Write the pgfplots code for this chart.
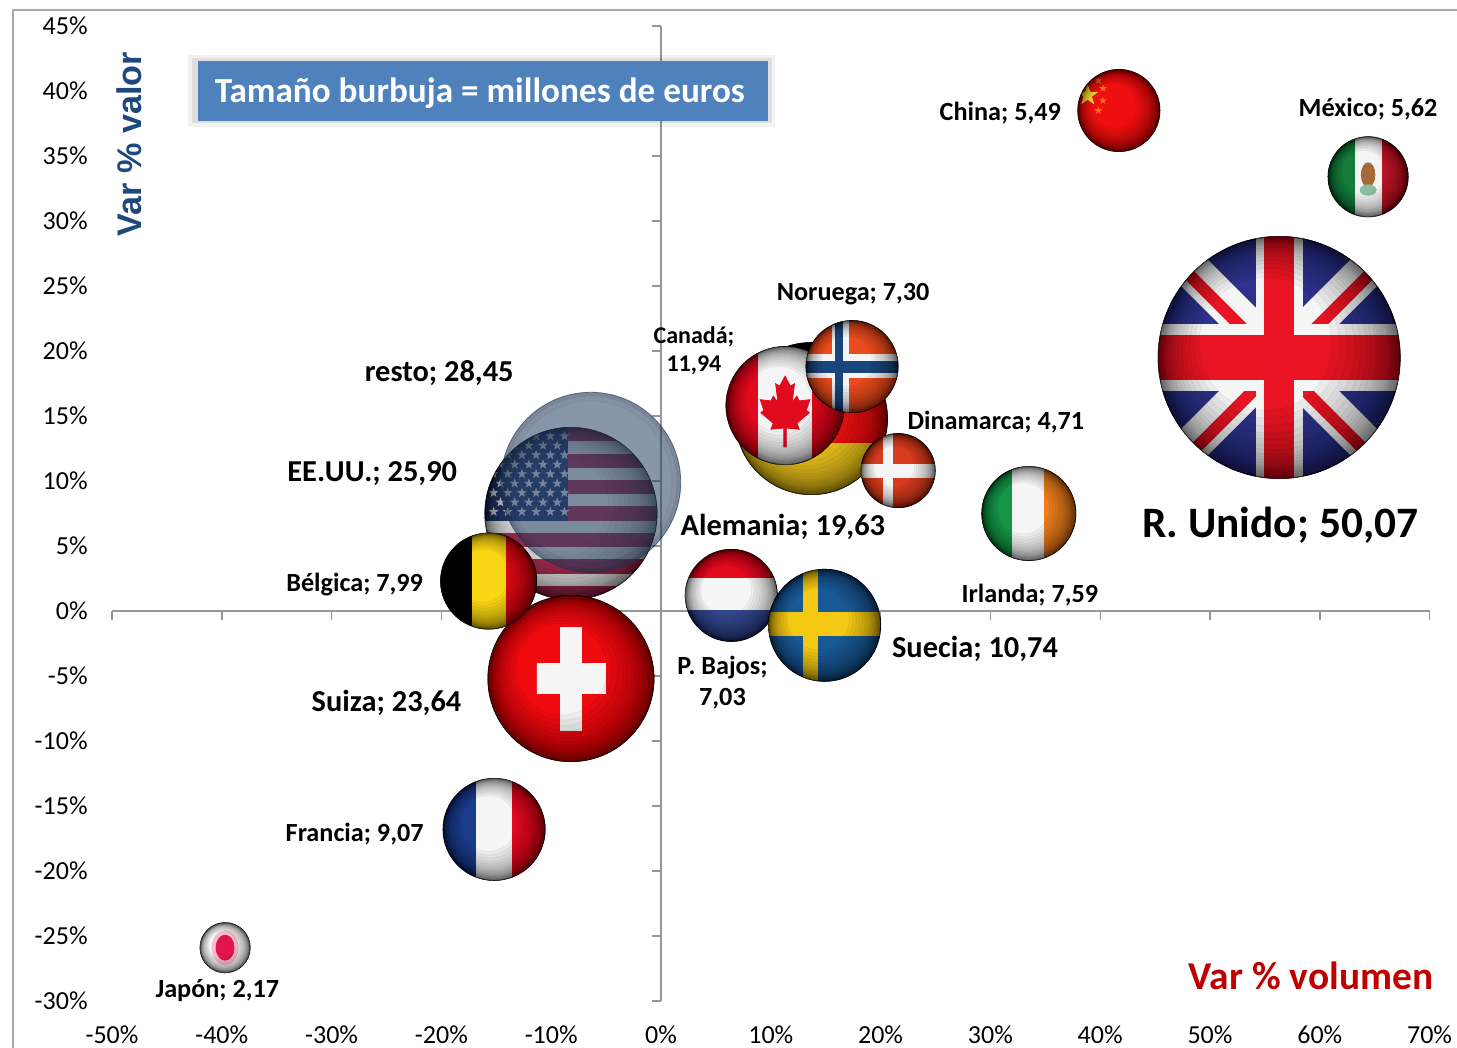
\documentclass[border=0pt]{standalone}
\usepackage{fontspec}
\setmainfont{Carlito}
\newfontfamily\arialfont{Liberation Sans}
\usepackage{pgfplots}
\pgfplotsset{compat=1.18}

\definecolor{frameg}{RGB}{170,170,170}
\definecolor{axisg}{RGB}{150,150,150}
\definecolor{boxblue}{RGB}{79,129,189}
\definecolor{valorblue}{RGB}{31,73,125}
\definecolor{volred}{RGB}{192,0,0}
\definecolor{fred}{RGB}{226,10,30}
\definecolor{chred}{RGB}{238,10,15}
\definecolor{ukred}{RGB}{232,20,35}
\definecolor{fwhite}{RGB}{245,245,245}
\definecolor{ukblue}{RGB}{45,50,140}
\definecolor{usblue}{RGB}{38,58,110}
\definecolor{usred}{RGB}{165,45,85}
\definecolor{usw}{RGB}{230,230,230}
\definecolor{beyellow}{RGB}{250,215,20}
\definecolor{bered}{RGB}{215,10,20}
\definecolor{frblue}{RGB}{25,60,140}
\definecolor{nlblue}{RGB}{50,70,140}
\definecolor{seblue}{RGB}{25,90,150}
\definecolor{seyellow}{RGB}{245,200,20}
\definecolor{noorange}{RGB}{235,75,30}
\definecolor{dkorange}{RGB}{215,60,30}
\definecolor{noblue}{RGB}{25,70,125}
\definecolor{ieorange}{RGB}{235,125,30}
\definecolor{iegreen}{RGB}{20,150,70}
\definecolor{mxgreen}{RGB}{20,125,60}
\definecolor{mxred}{RGB}{190,20,40}
\definecolor{mxbrown}{RGB}{165,105,55}
\definecolor{cnred}{RGB}{240,15,15}
\definecolor{cnyellow}{RGB}{250,225,40}
\definecolor{derd}{RGB}{230,15,15}
\definecolor{degold}{RGB}{235,195,30}
\definecolor{jpred}{RGB}{225,20,75}
\definecolor{jppink}{RGB}{245,190,205}
\definecolor{restofill}{RGB}{38,64,98}

% rim darkening of the spheres, stacked rings, a bit heavier at lower right
\newcommand\sphererim{%
  \foreach \rr in {.55,.6,.65,.7,.74,.78,.81,.84,.86,.88,.9,.92,.93,.94,.95,.96,.97,.98,.99}{%
    \fill[black,opacity=.04,even odd rule] (0,0) circle (1)
      ({-(1-\rr)*.25},{(1-\rr)*.25}) circle (\rr);}}

\newcommand\declareflag[2]{%
  \pgfdeclareplotmark{#1}{%
    \begin{scope}[x=\pgfplotmarksize,y=\pgfplotmarksize]
      \begin{scope}
        \clip (0,0) circle (1);
        #2
      \end{scope}
      \sphererim
    \end{scope}}}
\newcommand\fstar[4]{\fill[#4] (#1,#2)
  +(90:#3) -- +(126:#3*.4) -- +(162:#3) -- +(198:#3*.4) -- +(234:#3) --
  +(270:#3*.4) -- +(306:#3) -- +(342:#3*.4) -- +(18:#3) -- +(54:#3*.4) -- cycle;}

\declareflag{fUK}{%
  \fill[ukblue] (-1,-1) rectangle (1,1);
  \draw[fwhite,line width=.31*\pgfplotmarksize] (-1,-1) -- (1,1) (-1,1) -- (1,-1);
  \draw[ukred,line width=.10*\pgfplotmarksize]
    (-1.03,.97) -- (-.03,-.03) (1.03,.97) -- (.03,-.03)
    (-.97,-1.03) -- (.03,-.03) (.97,-1.03) -- (-.03,-.03);
  \fill[fwhite] (-1,-.27) rectangle (1,.27) (-.19,-1) rectangle (.19,1);
  \fill[ukred] (-1,-.18) rectangle (1,.18) (-.12,-1) rectangle (.12,1);}
\declareflag{fUS}{%
  \fill[usw] (-1,-1) rectangle (1,1);
  \foreach \k in {0,2,...,12}{\fill[usred] (-1,{1-\k*2/13}) rectangle (1,{1-(\k+1)*2/13});}
  \fill[usblue] (-1,-.08) rectangle (-.04,1);
  \foreach \r in {0,...,4}{\foreach \c in {0,...,5}{%
    \fstar{-.9+\c*.165}{.9-\r*.22}{.045}{fwhite!85!usblue}}}
  \foreach \r in {0,...,3}{\foreach \c in {0,...,4}{%
    \fstar{-.82+\c*.165}{.79-\r*.22}{.045}{fwhite!85!usblue}}}}
\declareflag{fBE}{%
  \fill[black] (-1,-1) rectangle (-.33,1);
  \fill[beyellow] (-.33,-1) rectangle (.37,1);
  \fill[bered] (.37,-1) rectangle (1,1);}
\declareflag{fCH}{%
  \fill[chred] (-1,-1) rectangle (1,1);
  \fill[fwhite] (-.41,-.18) rectangle (.41,.18) (-.13,-.62) rectangle (.13,.62);}
\declareflag{fFR}{%
  \fill[frblue] (-1,-1) rectangle (-.35,1);
  \fill[fwhite] (-.35,-1) rectangle (.35,1);
  \fill[fred] (.35,-1) rectangle (1,1);}
\declareflag{fJP}{%
  \fill[fwhite] (-1,-1) rectangle (1,1);
  \fill[jppink] (0,0) ellipse (.52 and .68);
  \fill[jpred] (0,0) ellipse (.36 and .5);}
\declareflag{fNL}{%
  \fill[fred] (-1,.37) rectangle (1,1);
  \fill[fwhite] (-1,-.33) rectangle (1,.37);
  \fill[nlblue] (-1,-1) rectangle (1,-.33);}
\declareflag{fSE}{%
  \fill[seblue] (-1,-1) rectangle (1,1);
  \fill[seyellow] (-1,-.18) rectangle (1,.23) (-.375,-1) rectangle (-.125,1);}
\declareflag{fDE}{%
  \fill[black] (-1,.32) rectangle (1,1);
  \fill[derd] (-1,-.32) rectangle (1,.32);
  \fill[degold] (-1,-1) rectangle (1,-.32);}
\declareflag{fCA}{%
  \fill[fwhite] (-1,-1) rectangle (1,1);
  \fill[fred] (-1,-1) rectangle (-.47,1) (.47,-1) rectangle (1,1);
  \fill[fred] (0,.5) -- (.09,.33) -- (.16,.37) -- (.12,.05) -- (.2,.16) -- (.24,.08) -- (.42,.1)
    -- (.36,-.08) -- (.41,-.12) -- (.2,-.3) -- (.24,-.4) -- (.02,-.38) -- (.02,-.7) -- (-.02,-.7)
    -- (-.02,-.38) -- (-.24,-.4) -- (-.2,-.3) -- (-.41,-.12) -- (-.36,-.08) -- (-.42,.1)
    -- (-.24,.08) -- (-.2,.16) -- (-.12,.05) -- (-.16,.37) -- (-.09,.33) -- cycle;}
\declareflag{fNO}{%
  \fill[noorange] (-1,-1) rectangle (1,1);
  \fill[fwhite] (-1,-.24) rectangle (1,.26) (-.43,-1) rectangle (-.09,1);
  \fill[noblue] (-1,-.13) rectangle (1,.11) (-.37,-1) rectangle (-.2,1);}
\declareflag{fDK}{%
  \fill[dkorange] (-1,-1) rectangle (1,1);
  \fill[fwhite] (-1,-.19) rectangle (1,.16) (-.4,-1) rectangle (-.16,1);}
\declareflag{fIE}{%
  \fill[iegreen] (-1,-1) rectangle (-.34,1);
  \fill[fwhite] (-.34,-1) rectangle (.34,1);
  \fill[ieorange] (.34,-1) rectangle (1,1);}
\declareflag{fMX}{%
  \fill[mxgreen] (-1,-1) rectangle (-.33,1);
  \fill[fwhite] (-.33,-1) rectangle (.35,1);
  \fill[mxred] (.35,-1) rectangle (1,1);
  \fill[mxbrown] (0,.05) ellipse (.17 and .3);
  \fill[mxgreen!50!white] (0,-.33) ellipse (.2 and .13);}
\declareflag{fCN}{%
  \fill[cnred] (-1,-1) rectangle (1,1);
  \fstar{-.76}{.37}{.24}{cnyellow}
  \fstar{-.39}{.54}{.07}{cnyellow!45!cnred}
  \fstar{-.39}{.24}{.07}{cnyellow!45!cnred}
  \fstar{-.5}{0}{.07}{cnyellow!45!cnred}
  \fstar{-.5}{.73}{.07}{cnyellow!45!cnred}}

% translucent bubble of the rest
\pgfdeclareplotmark{fresto}{%
  \begin{scope}[x=\pgfplotmarksize,y=\pgfplotmarksize]
    \fill[restofill,opacity=.55] (0,0) circle (1);
    \foreach \rr/\aa in {.90/.04,.96/.06}{%
      \fill[black,opacity=\aa,even odd rule] (0,0) circle (1) (0,0) circle (\rr);}
  \end{scope}}

\newcommand\bubble[4]{\addplot[only marks,mark=#1,mark size=#2pt] coordinates {(#3,#4)};}
\newcommand\lblS{\fontsize{13.1}{15.5}\selectfont\bfseries}
\newcommand\lblM{\fontsize{15.2}{17}\selectfont\bfseries}
\tikzset{lb/.style={yshift=-1.25pt}}

\begin{document}
\begin{tikzpicture}
\path[use as bounding box] (0,0) rectangle (728.5pt,524pt);
\draw[frameg,line width=1pt] (6.5pt,0) -- (6.5pt,519pt) -- (728.5pt,519pt);

% tick labels at the low side, axis lines hidden
\begin{axis}[
  at={(56pt,23.5pt)}, anchor=south west, scale only axis,
  width=658.8pt, height=487.5pt,
  xmin=-50, xmax=70, ymin=-30, ymax=45,
  axis x line*=bottom, axis y line*=left,
  axis line style={draw=none}, major tick style={draw=none},
  xtick={-50,-40,...,70},
  xticklabels={-50\%,-40\%,-30\%,-20\%,-10\%,0\%,10\%,20\%,30\%,40\%,50\%,60\%,70\%},
  ytick={-30,-25,...,45},
  yticklabels={-30\%,-25\%,-20\%,-15\%,-10\%,-5\%,0\%,5\%,10\%,15\%,20\%,25\%,30\%,35\%,40\%,45\%},
  tick label style={font=\fontsize{13}{15}\selectfont},
  yticklabel style={anchor=east,inner sep=0pt,xshift=-12pt},
  xticklabel style={anchor=center,inner sep=0pt,yshift=-17pt},
]
\addplot[draw=none,forget plot] coordinates {(0,0)};
\end{axis}

% axes through zero and the bubbles
\begin{axis}[
  at={(56pt,23.5pt)}, anchor=south west, scale only axis,
  width=658.8pt, height=487.5pt,
  xmin=-50, xmax=70, ymin=-30, ymax=45,
  axis x line=middle, axis y line=middle,
  axis line style={-,axisg,line width=.8pt},
  tick style={axisg,line width=.7pt},
  tick align=outside, major tick length=4.5pt,
  xtick={-50,-40,...,70}, ytick={-30,-25,...,45},
  xticklabels={}, yticklabels={},
  clip=false,
]
\bubble{fUS}{43}{-8.2}{7.5}
\bubble{fresto}{45}{-6.4}{9.9}
\bubble{fCH}{41.5}{-8.2}{-5.2}
\bubble{fBE}{24}{-15.7}{2.3}
\bubble{fFR}{25.5}{-15.2}{-16.8}
\bubble{fJP}{12.5}{-39.7}{-25.9}
\bubble{fNL}{23}{6.4}{1.2}
\bubble{fSE}{28}{14.9}{-1.1}
\bubble{fDE}{38}{13.7}{14.8}
\bubble{fCA}{29.5}{11.3}{15.8}
\bubble{fNO}{23}{17.4}{18.8}
\bubble{fDK}{18.5}{21.6}{10.8}
\bubble{fIE}{23.5}{33.5}{7.5}
\bubble{fUK}{60.5}{56.3}{19.5}
\bubble{fMX}{20}{64.4}{33.4}
\bubble{fCN}{20.5}{41.7}{38.5}

\node[lb,font=\lblS] at (axis cs:30.9,38.5) {China; 5,49};
\node[lb,font=\lblS] at (axis cs:64.4,38.8) {México; 5,62};
\node[lb,font=\lblS] at (axis cs:17.5,24.6) {Noruega; 7,30};
\node[lb,font=\fontsize{12}{14}\selectfont\bfseries,align=center] at (axis cs:3.0,20.2) {Canadá;\\11,94};
\node[lb,font=\lblS] at (axis cs:30.5,14.7) {Dinamarca; 4,71};
\node[lb,font=\lblM] at (axis cs:-20.2,18.5) {resto; 28,45};
\node[lb,font=\lblM] at (axis cs:-26.3,10.8) {EE.UU.; 25,90};
\node[lb,font=\lblM] at (axis cs:11.1,6.7) {Alemania; 19,63};
\node[lb,font=\lblS] at (axis cs:-27.9,2.2) {Bélgica; 7,99};
\node[lb,font=\lblS] at (axis cs:33.6,1.4) {Irlanda; 7,59};
\node[lb,font=\lblM] at (axis cs:28.6,-2.7) {Suecia; 10,74};
\node[lb,font=\lblS,align=center] at (axis cs:5.6,-5.3) {P. Bajos;\\7,03};
\node[lb,font=\lblM] at (axis cs:-25.0,-6.9) {Suiza; 23,64};
\node[lb,font=\lblS] at (axis cs:-27.9,-17.0) {Francia; 9,07};
\node[lb,font=\lblS] at (axis cs:-40.4,-29.0) {Japón; 2,17};
\node[lb,font=\fontsize{21.7}{25}\selectfont\bfseries] at (axis cs:56.4,6.8) {R. Unido; 50,07};
\node[font=\fontsize{19.7}{23}\selectfont\bfseries,text=volred] at (axis cs:59.2,-28.1) {Var \% volumen};
\node[font=\arialfont\fontsize{17.1}{19}\selectfont\bfseries,text=valorblue,rotate=90] at (axis cs:-48.4,35.9) {Var \% valor};

\fill[black,opacity=.05] (axis cs:-43.1,42.8) rectangle (axis cs:10.4,37.2);
\fill[black,opacity=.08] (axis cs:-42.7,42.5) rectangle (axis cs:10.1,37.5);
\node[fill=boxblue,minimum width=285pt,minimum height=30pt,inner sep=0pt] at (axis cs:-16.2,40.0) {};
\node[lb,text=white,font=\fontsize{17.6}{20}\selectfont\bfseries,inner sep=0pt] at (axis cs:-16.5,40.0) {Tamaño burbuja = millones de euros};
\end{axis}
\end{tikzpicture}
\end{document}
